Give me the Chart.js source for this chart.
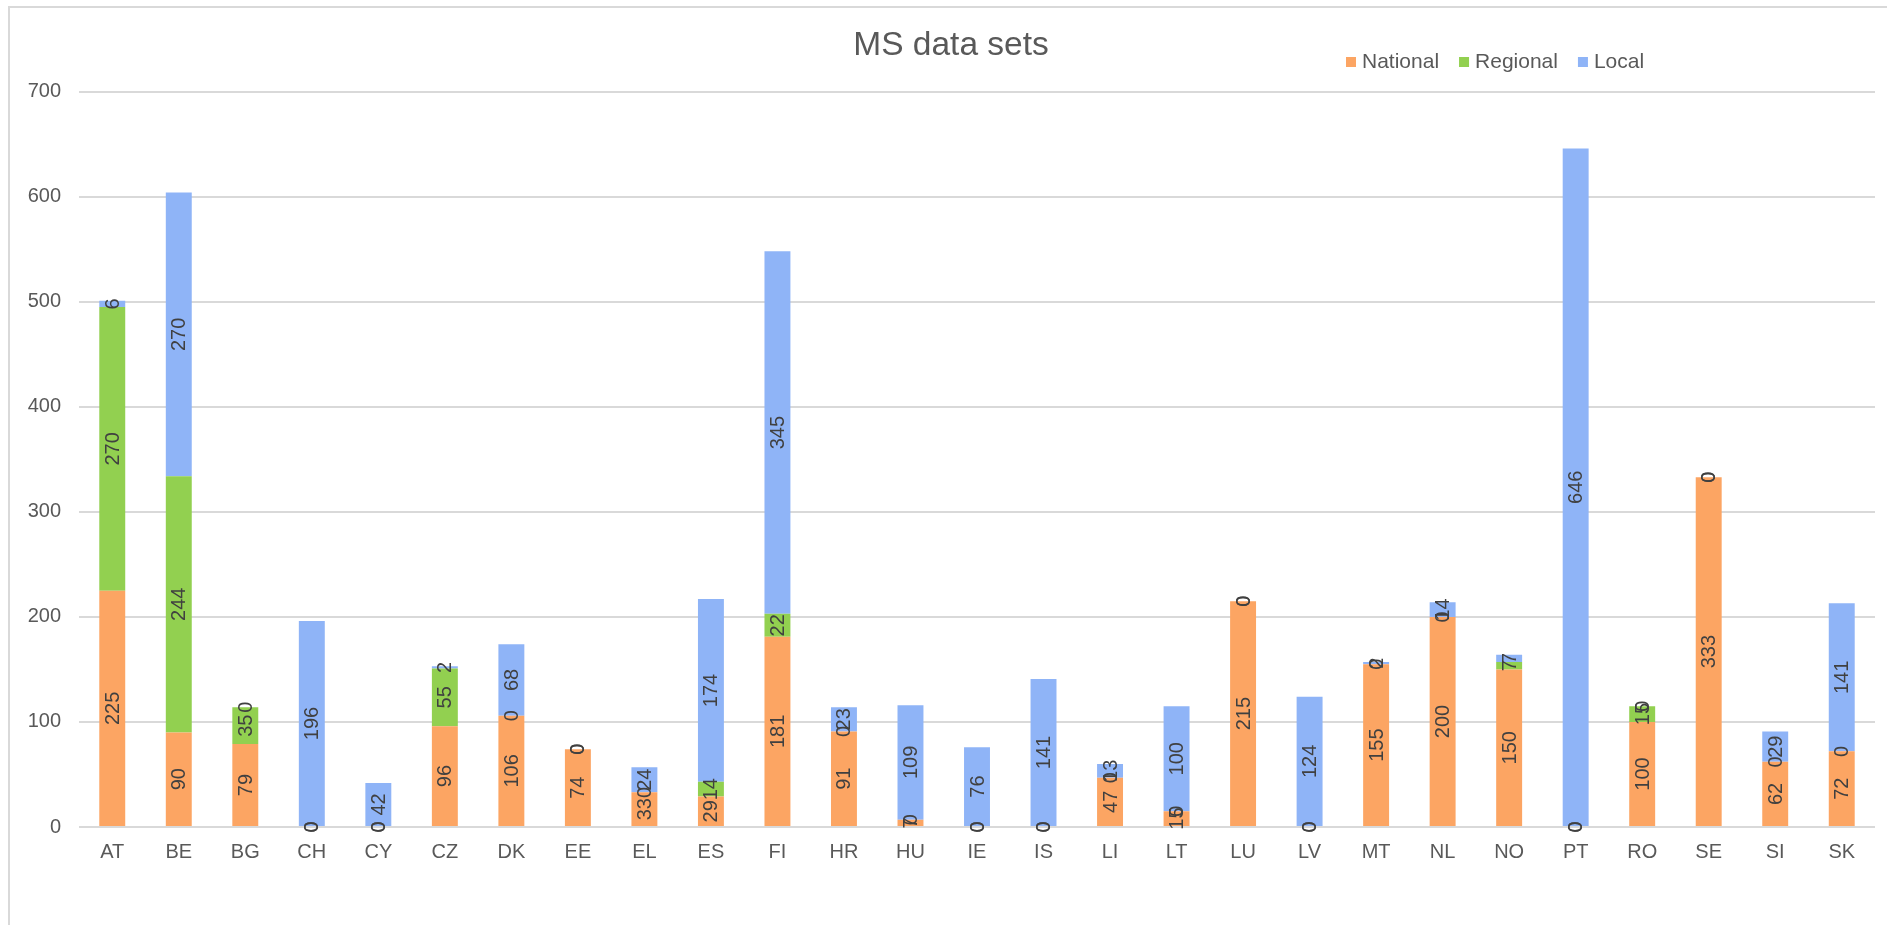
<!DOCTYPE html>
<html>
<head>
<meta charset="utf-8">
<script src="https://cdn.jsdelivr.net/npm/chart.js@4.4.1/dist/chart.umd.min.js"></script>
<style>
html,body{margin:0;padding:0;background:#ffffff;width:1887px;height:925px;overflow:hidden;}
#frame{position:absolute;left:8px;top:6px;width:3000px;height:3000px;border-left:2px solid #d9d9d9;border-top:2px solid #d9d9d9;}
#wrap{position:absolute;left:0;top:0;width:1887px;height:925px;}
</style>
</head>
<body>
<div id="frame"></div>
<div id="wrap"><canvas id="c" width="1887" height="925"></canvas></div>
<script>
// ---- data ----
const categories = ['AT','BE','BG','CH','CY','CZ','DK','EE','EL','ES','FI','HR','HU','IE','IS','LI','LT','LU','LV','MT','NL','NO','PT','RO','SE','SI','SK'];
const national = [225, 90, 79, 0, 0, 96, 106, 74, 33, 29, 181, 91, 7, 0, 0, 47, 15, 215, 0, 155, 200, 150, 0, 100, 333, 62, 72];
const regional = [270, 244, 35, 0, 0, 55, 0, 0, 0, 14, 22, 0, 0, 0, 0, 0, 0, 0, 0, 0, 0, 7, 0, 15, 0, 0, 0];
const local    = [6, 270, 0, 196, 42, 2, 68, 0, 24, 174, 345, 23, 109, 76, 141, 13, 100, 0, 124, 2, 14, 7, 646, 0, 0, 29, 141];
const seriesNames = ['National', 'Regional', 'Local'];
const yTickValues = [0, 100, 200, 300, 400, 500, 600, 700];
const chartTitle = 'MS data sets';

// ---- styles ----
const FONT = "'Liberation Sans', Arial, sans-serif";
const colors = ['#FCA563', '#92D050', '#8FB4F7'];

// segment labels (centered, rotated)
const segLabels = {
  id: 'segLabels',
  afterDatasetsDraw(chart, args, opts) {
    const ctx = chart.ctx;
    ctx.save();
    ctx.font = opts.size + 'px ' + FONT;
    ctx.fillStyle = opts.color;
    ctx.textAlign = 'center';
    ctx.textBaseline = 'middle';
    chart.data.datasets.forEach((ds, i) => {
      const meta = chart.getDatasetMeta(i);
      meta.data.forEach((bar, j) => {
        const p = bar.getProps(['x', 'y', 'base'], true);
        const cy = (p.y + p.base) / 2;
        ctx.save();
        ctx.translate(p.x, cy);
        ctx.rotate(-Math.PI / 2);
        ctx.fillText(String(ds.data[j]), 0, 1);
        ctx.restore();
      });
    });
    ctx.restore();
  }
};

// legend drawn at the top right, in the title row
const topLegend = {
  id: 'topLegend',
  afterDraw(chart, args, opts) {
    const ctx = chart.ctx;
    ctx.save();
    ctx.font = opts.size + 'px ' + FONT;
    ctx.textBaseline = 'middle';
    ctx.textAlign = 'left';
    let x = opts.x;
    const y = opts.y;
    chart.data.datasets.forEach(ds => {
      ctx.fillStyle = ds.backgroundColor;
      ctx.fillRect(x, y - opts.box / 2, opts.box, opts.box);
      x += opts.box + opts.gap;
      ctx.fillStyle = opts.color;
      ctx.fillText(ds.label, x, y);
      x += ctx.measureText(ds.label).width + opts.itemGap;
    });
    ctx.restore();
  }
};

const datasets = [national, regional, local].map((arr, i) => ({
  label: seriesNames[i],
  data: arr,
  backgroundColor: colors[i],
  borderWidth: 0,
  categoryPercentage: 1.0,
  barPercentage: 0.39
}));

new Chart(document.getElementById('c'), {
  type: 'bar',
  data: { labels: categories, datasets: datasets },
  plugins: [segLabels, topLegend],
  options: {
    responsive: false,
    animation: false,
    layout: { padding: { top: 0, left: 27, right: 12, bottom: 48 } },
    plugins: {
      legend: { display: false },
      tooltip: { enabled: false },
      title: {
        display: true,
        text: chartTitle,
        color: '#595959',
        font: { family: FONT, size: 33.5, weight: 'normal', lineHeight: 1.2 },
        padding: { top: 25.9, bottom: 25.6 }
      },
      segLabels: { size: 20, color: '#404040' },
      topLegend: { x: 1346, y: 62, size: 21, box: 10, gap: 6, itemGap: 20, color: '#595959' }
    },
    scales: {
      x: {
        stacked: true,
        grid: { display: false, drawTicks: false },
        border: { display: false },
        ticks: {
          color: '#595959',
          font: { family: FONT, size: 20 },
          padding: 13,
          maxRotation: 0,
          autoSkip: false
        }
      },
      y: {
        stacked: true,
        min: yTickValues[0],
        max: yTickValues[yTickValues.length - 1],
        afterBuildTicks(scale) { scale.ticks = yTickValues.map(v => ({ value: v })); },
        afterFit(scale) { scale.width = 52; },
        grid: { color: '#d9d9d9', lineWidth: 2, drawTicks: false },
        border: { display: false },
        ticks: {
          color: '#595959',
          font: { family: FONT, size: 20 },
          padding: 18
        }
      }
    }
  }
});
</script>
</body>
</html>
